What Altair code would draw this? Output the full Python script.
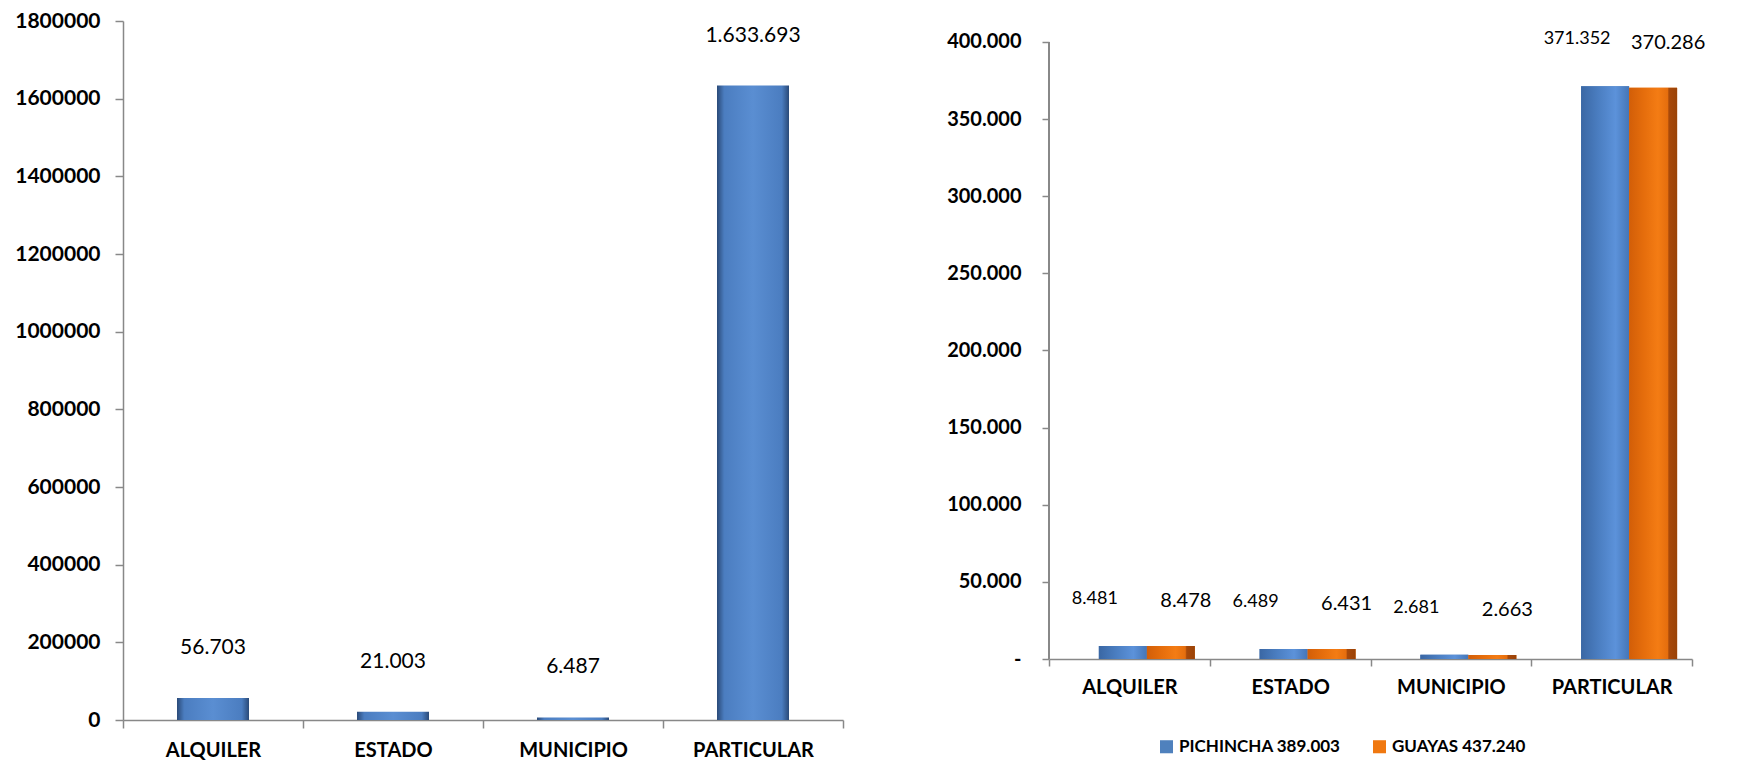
import altair as alt
import pandas as pd

# ---------------- data ----------------
categories = ["ALQUILER", "ESTADO", "MUNICIPIO", "PARTICULAR"]
total_values = [56703, 21003, 6487, 1633693]

series = ["PICHINCHA 389.003", "GUAYAS 437.240"]
pichincha_values = [8481, 6489, 2681, 371352]
guayas_values = [8478, 6431, 2663, 370286]

left_ticks = [0, 200000, 400000, 600000, 800000, 1000000, 1200000, 1400000, 1600000, 1800000]
right_ticks = [0, 50000, 100000, 150000, 200000, 250000, 300000, 350000, 400000]

# ---------------- style ----------------
FONT = "Lato"
GREY = "#888888"
series_colors = ["#4F81BD", "#F07810"]

left_df = pd.DataFrame({"cat": categories, "value": total_values})
right_df = pd.DataFrame({
    "cat": categories * 2,
    "serie": [series[0]] * len(categories) + [series[1]] * len(categories),
    "value": pichincha_values + guayas_values,
})

dot_fmt = "replace(replace(format(datum.value, ','), ',', '.'), ',', '.')"


def grad(stops):
    return alt.Gradient(
        gradient="linear",
        stops=[alt.GradientStop(color=c, offset=o) for o, c in stops],
        x1=0, x2=1, y1=0, y2=0,
    )


left_grad = grad([(0, "#2a4a78"), (0.1, "#4b7dc0"), (0.5, "#5a8ed2"), (0.9, "#4b7dc0"), (1, "#2a4a78")])
blue_grad = grad([(0, "#3a67a4"), (0.35, "#4a7dc0"), (0.72, "#5c92da"), (1, "#4576b7")])
orange_grad = grad([(0, "#d25e08"), (0.3, "#e56d0c"), (0.6, "#f47c14"), (0.8, "#e56e0e"), (0.83, "#a8490a"), (1, "#9a4308")])

axis_common = dict(
    labelFont=FONT, labelFontWeight="bold", labelColor="black",
    domainColor=GREY, tickColor=GREY, domainWidth=1.5, tickWidth=1.5, grid=False,
)

# ---------------- left chart ----------------
x_left = alt.X(
    "cat:N", sort=categories, title=None,
    scale=alt.Scale(paddingInner=0, paddingOuter=0),
    axis=alt.Axis(tickBand="extent", labelAngle=0, tickSize=8, labelPadding=12,
                  labelFontSize=20, **axis_common),
)
y_left = alt.Y(
    "value:Q", title=None,
    scale=alt.Scale(domain=[left_ticks[0], left_ticks[-1]], nice=False),
    axis=alt.Axis(values=left_ticks, format="d", tickSize=8, labelPadding=15,
                  labelFontSize=21, **axis_common),
)

left_bars = alt.Chart(left_df).mark_bar(
    width=alt.RelativeBandSize(0.4), color=left_grad
).encode(x=x_left, y=y_left)

left_text = alt.Chart(left_df).transform_calculate(label=dot_fmt).mark_text(
    dy=-50, font=FONT, fontSize=21, color="black"
).encode(x=x_left, y=y_left, text="label:N")

left = alt.layer(left_bars, left_text).properties(width=720, height=699)

# ---------------- right chart ----------------
x_right = alt.X(
    "cat:N", sort=categories, title=None,
    scale=alt.Scale(paddingInner=0, paddingOuter=0),
    axis=alt.Axis(tickBand="extent", labelAngle=0, tickSize=7, labelPadding=11,
                  labelFontSize=20, **axis_common),
)
xo = alt.XOffset(
    "serie:N", sort=series,
    scale=alt.Scale(domain=series, paddingInner=0, paddingOuter=0.674, align=0.77),
)
y_right = alt.Y(
    "value:Q", title=None,
    scale=alt.Scale(domain=[0, 413600], nice=False),
    axis=alt.Axis(
        values=right_ticks, domain=False, tickSize=7, labelPadding=21, labelFontSize=20,
        labelExpr="datum.value == 0 ? '-' : replace(format(datum.value, ','), ',', '.')",
        **axis_common,
    ),
)

base_r = alt.Chart(right_df)

right_axis_line = alt.Chart(right_df).mark_rule(color=GREY, strokeWidth=1.5).encode(
    x=alt.value(0), y=alt.datum(right_ticks[0]), y2=alt.datum(right_ticks[-1])
)

right_bars = base_r.mark_bar().encode(
    x=x_right, xOffset=xo, y=y_right,
    color=alt.Color(
        "serie:N", sort=series,
        scale=alt.Scale(domain=series, range=series_colors),
        legend=alt.Legend(
            orient="none", legendX=109, legendY=717, direction="horizontal", title=None,
            symbolType="square", symbolSize=170, symbolStrokeWidth=0,
            labelFont=FONT, labelFontSize=17, labelFontWeight="bold", labelColor="black",
            labelLimit=400, columnPadding=30, labelOffset=4,
        ),
    ),
)

blue_over = base_r.transform_filter(alt.datum.serie == series[0]).mark_bar(color=blue_grad).encode(
    x=x_right, xOffset=xo, y=y_right
)
orange_over = base_r.transform_filter(alt.datum.serie == series[1]).mark_bar(color=orange_grad).encode(
    x=x_right, xOffset=xo, y=y_right
)

blue_text = base_r.transform_filter(alt.datum.serie == series[0]).transform_calculate(
    label=dot_fmt
).mark_text(dy=-47, dx=-28, font=FONT, fontSize=18, color="black").encode(
    x=x_right, xOffset=xo, y=y_right, text="label:N"
)
orange_text = base_r.transform_filter(alt.datum.serie == series[1]).transform_calculate(
    label=dot_fmt
).mark_text(dy=-45, dx=15, font=FONT, fontSize=20, color="black").encode(
    x=x_right, xOffset=xo, y=y_right, text="label:N"
)

right = alt.layer(
    right_axis_line, right_bars, blue_over, orange_over, blue_text, orange_text
).properties(width=643, height=638)

chart = (
    alt.hconcat(left, right, spacing=206, bounds="flush")
    .resolve_scale(color="independent")
    .resolve_legend(color="independent")
    .properties(padding={"left": 6, "top": 2, "right": 5, "bottom": 0})
    .configure_view(stroke=None)
)

chart.save("out.html", embed_options={"renderer": "svg", "actions": False})
